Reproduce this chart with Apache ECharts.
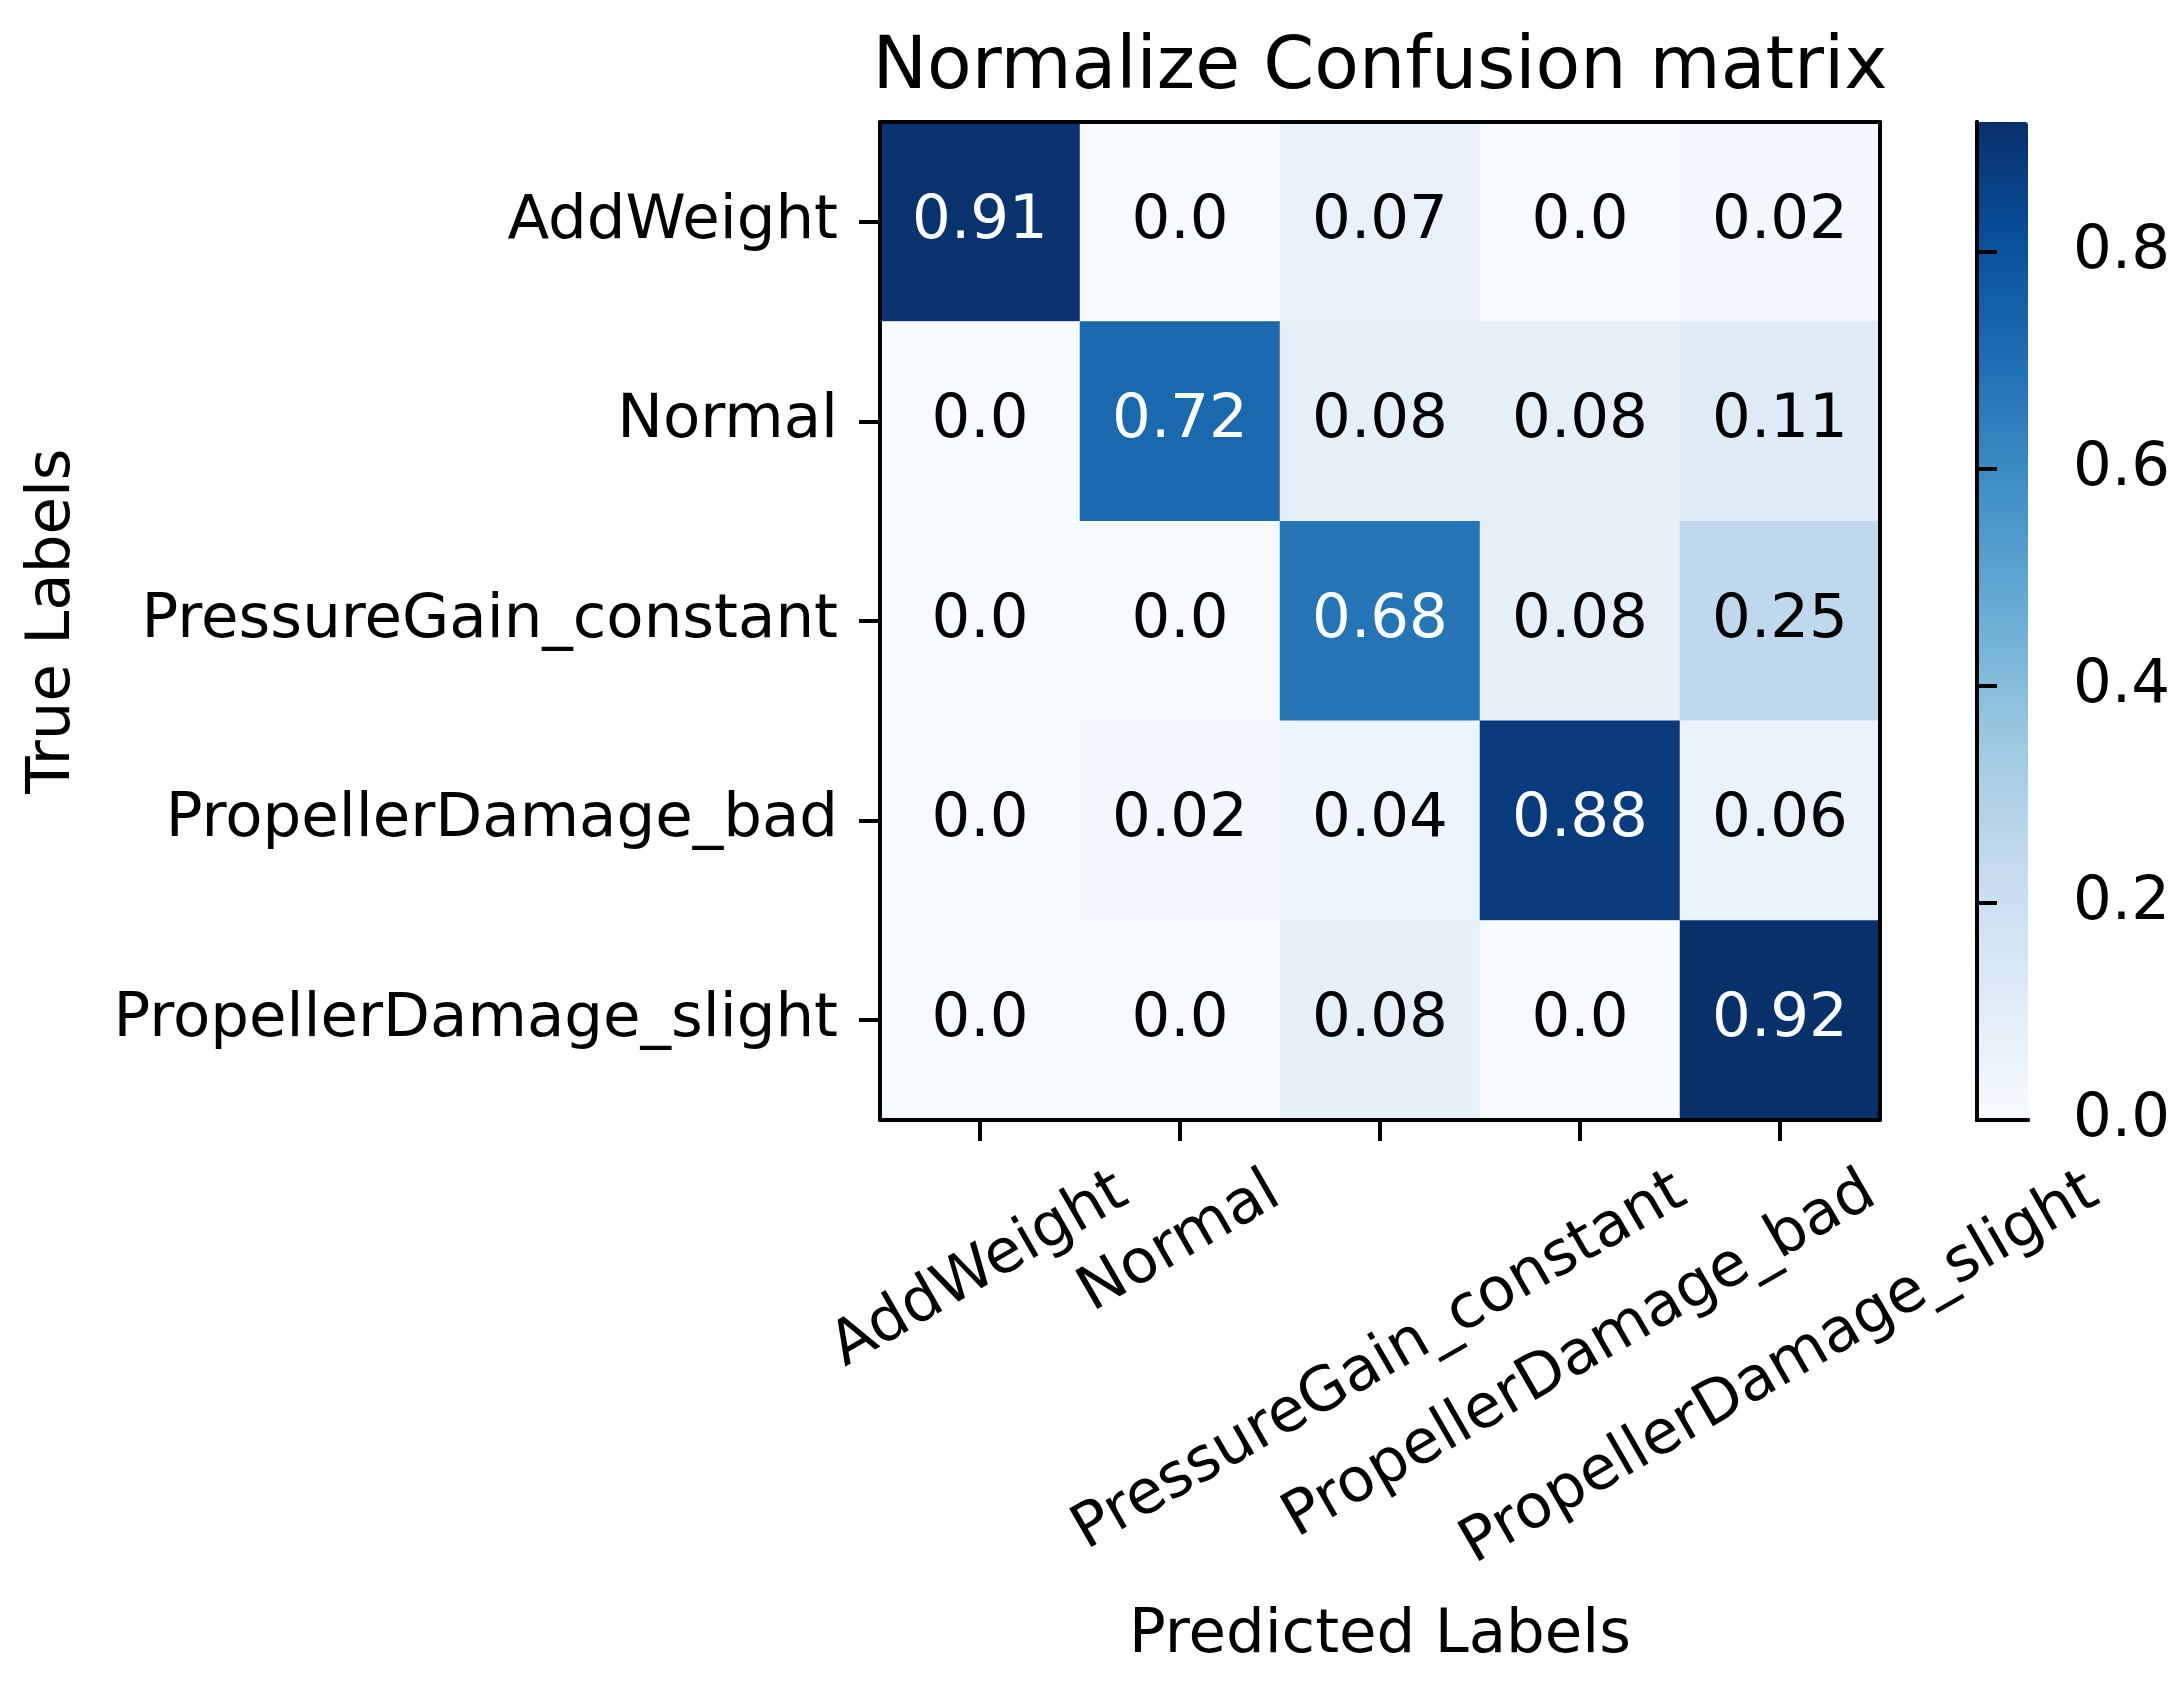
<!DOCTYPE html>
<html>
<head>
<meta charset="utf-8">
<script src="https://cdn.jsdelivr.net/npm/echarts@6/dist/echarts.min.js"></script>
<style>
html,body{margin:0;padding:0;background:#fff;}
#chart{width:2183px;height:1683px;}
</style>
</head>
<body>
<div id="chart"></div>
<script>
// ---- data ----
const categories = ['AddWeight', 'Normal', 'PressureGain_constant', 'PropellerDamage_bad', 'PropellerDamage_slight'];
const rowAddWeight = [0.91, 0.0, 0.07, 0.0, 0.02];
const rowNormal = [0.0, 0.72, 0.08, 0.08, 0.11];
const rowPressureGain = [0.0, 0.0, 0.68, 0.08, 0.25];
const rowPropBad = [0.0, 0.02, 0.04, 0.88, 0.06];
const rowPropSlight = [0.0, 0.0, 0.08, 0.0, 0.92];
const colorbarTicks = [0.0, 0.2, 0.4, 0.6, 0.8];
const titleText = 'Normalize Confusion matrix';
const xName = 'Predicted Labels';
const yName = 'True Labels';

const matrix = [rowAddWeight, rowNormal, rowPressureGain, rowPropBad, rowPropSlight];
const FONT = '"DejaVu Sans", sans-serif';
const FS = 61;
const blues = ['#f7fbff', '#deebf7', '#c6dbef', '#9ecae1', '#6baed6', '#4292c6', '#2171b5', '#08519c', '#08306b'];

let vmax = 0;
matrix.forEach(r => r.forEach(v => { if (v > vmax) vmax = v; }));
const thresh = vmax / 2;

const heatData = [];
matrix.forEach((row, i) => row.forEach((v, j) => {
  heatData.push({ value: [j, i, v], label: { color: v > thresh ? '#ffffff' : '#000000' } });
}));

// measure text
const cv = document.createElement('canvas').getContext('2d');
function textW(t, fs) { cv.font = fs + 'px ' + FONT; return cv.measureText(t).width; }

// plot geometry
const G = { left: 880, top: 122, width: 1000, height: 998 };
const CB = { left: 1977, top: 122, width: 51, height: 998 };

// x tick labels: rotated 30deg, centred under each tick (matplotlib style)
const ROT = 30 * Math.PI / 180;
const xLabelData = categories.map((c, i) => {
  const w = textW(c, FS);
  const D = 68 + 0.25 * w; // distance of label centre below the axis line
  return {
    value: [i, 0],
    label: { offset: [-Math.sin(ROT) * D, Math.cos(ROT) * D] }
  };
});

const titleW = textW(titleText, 73);

const chart = echarts.init(document.getElementById('chart'), null, { renderer: 'canvas' });
const frameLine = { show: true, lineStyle: { color: '#000', width: 4 } };
const tickStyle = { color: '#000', width: 4 };
const none = { show: false };
chart.setOption({
  animation: false,
  backgroundColor: '#ffffff',
  textStyle: { fontFamily: FONT },
  title: {
    text: titleText,
    left: G.left + G.width / 2 - titleW / 2,
    top: 33,
    padding: 0,
    textStyle: { fontFamily: FONT, fontSize: 73, fontWeight: 'normal', color: '#000' }
  },
  grid: [
    { left: G.left, top: G.top, width: G.width, height: G.height, outerBoundsMode: 'none', containLabel: false },
    { left: CB.left, top: CB.top, width: CB.width, height: CB.height, outerBoundsMode: 'none', containLabel: false }
  ],
  xAxis: [
    {
      type: 'category', gridIndex: 0, data: categories, z: 10,
      axisLine: frameLine,
      axisTick: { show: true, alignWithLabel: true, length: 21, lineStyle: tickStyle },
      axisLabel: { show: false },
      splitLine: none,
      name: xName, nameLocation: 'middle', nameGap: 486, nameMoveOverlap: false,
      nameTextStyle: { fontSize: FS, fontFamily: FONT, color: '#000' }
    },
    {
      type: 'category', gridIndex: 0, data: categories, position: 'top', z: 10,
      axisLine: frameLine, axisTick: none, axisLabel: none, splitLine: none
    },
    {
      type: 'value', gridIndex: 1, min: 0, max: 1, position: 'bottom', z: 10,
      axisLine: frameLine, axisTick: none, axisLabel: none, splitLine: none
    },
    {
      type: 'value', gridIndex: 1, min: 0, max: 1, position: 'top', z: 10,
      axisLine: frameLine, axisTick: none, axisLabel: none, splitLine: none
    }
  ],
  yAxis: [
    {
      type: 'category', gridIndex: 0, data: categories, inverse: true, z: 10,
      axisLine: frameLine,
      axisTick: { show: true, alignWithLabel: true, length: 21, lineStyle: tickStyle },
      axisLabel: { interval: 0, margin: 42, fontSize: FS, fontFamily: FONT, color: '#000', padding: [8, 0, 0, 0] },
      splitLine: none,
      name: yName, nameLocation: 'middle', nameGap: 796, nameRotate: 90, nameMoveOverlap: false,
      nameTextStyle: { fontSize: FS, fontFamily: FONT, color: '#000' }
    },
    {
      type: 'category', gridIndex: 0, data: categories, inverse: true, position: 'right', z: 10,
      axisLine: frameLine, axisTick: none, axisLabel: none, splitLine: none
    },
    {
      type: 'value', gridIndex: 1, min: 0, max: vmax, interval: 0.2, position: 'right', z: 10,
      axisLine: frameLine,
      axisTick: { show: true, length: 20, lineStyle: tickStyle },
      axisLabel: {
        margin: 45, fontSize: FS, fontFamily: FONT, color: '#000', showMaxLabel: false,
        formatter: v => (colorbarTicks.some(t => Math.abs(t - v) < 1e-6) ? v.toFixed(1) : '')
      },
      splitLine: none
    },
    {
      type: 'value', gridIndex: 1, min: 0, max: vmax, position: 'left', z: 10,
      axisLine: frameLine, axisTick: none, axisLabel: none, splitLine: none
    },
    {
      type: 'value', gridIndex: 0, min: 0, max: 1, position: 'left', show: false
    }
  ],
  visualMap: {
    type: 'continuous',
    seriesIndex: 0,
    min: 0, max: vmax,
    calculable: false,
    showLabel: false,
    text: null,
    hoverLink: false,
    orient: 'vertical',
    left: CB.left, top: CB.top,
    itemWidth: CB.width, itemHeight: CB.height,
    padding: 0,
    inRange: { color: blues }
  },
  series: [
    {
      type: 'heatmap',
      xAxisIndex: 0, yAxisIndex: 0,
      data: heatData,
      label: {
        show: true, fontSize: FS, fontFamily: FONT,
        formatter: p => { const v = p.value[2]; return Number.isInteger(v) ? v.toFixed(1) : String(v); }
      },
      emphasis: { disabled: true },
      itemStyle: { borderWidth: 0 }
    },
    {
      // x-axis tick labels, anchored at each category on the bottom axis line
      type: 'scatter',
      xAxisIndex: 0, yAxisIndex: 4,
      symbolSize: 0,
      clip: false,
      silent: true,
      z: 20,
      itemStyle: { opacity: 1 },
      data: xLabelData,
      label: {
        show: true, position: 'inside', rotate: 30,
        align: 'center', verticalAlign: 'middle',
        fontSize: FS, fontFamily: FONT, color: '#000000', opacity: 1,
        textBorderWidth: 0,
        formatter: p => categories[p.value[0]]
      },
      emphasis: { disabled: true }
    }
  ]
});
</script>
</body>
</html>
